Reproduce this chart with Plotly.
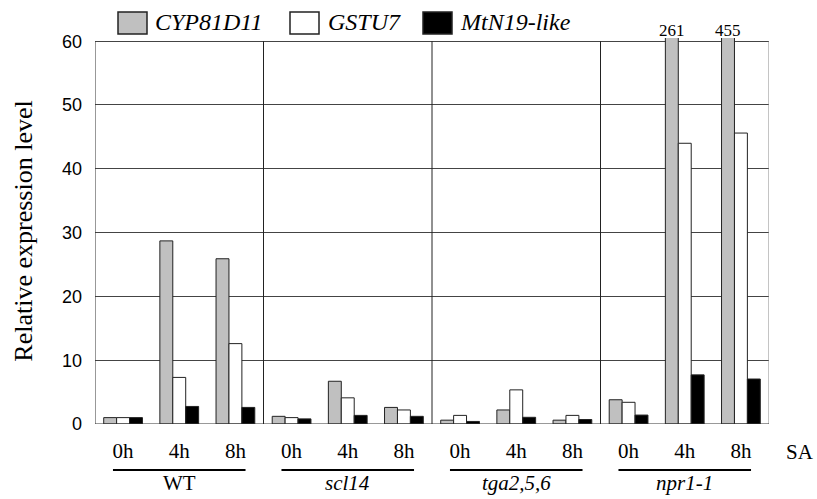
import plotly.graph_objects as go

# Genotypes and SA time points
genotypes = ["WT", "scl14", "tga2,5,6", "npr1-1"]
genotype_italic = [False, True, True, True]
timepoints = ["0h", "4h", "8h"]

# Relative expression levels (one value per genotype x time point)
cyp81d11 = [1.0, 28.7, 25.9, 1.2, 6.7, 2.6, 0.6, 2.2, 0.6, 3.8, 261, 455]
gstu7 = [1.0, 7.3, 12.6, 1.0, 4.1, 2.2, 1.35, 5.35, 1.35, 3.4, 44.0, 45.6]
mtn19_like = [1.0, 2.75, 2.6, 0.8, 1.35, 1.2, 0.4, 1.05, 0.7, 1.4, 7.7, 7.05]

series_names = ["CYP81D11", "GSTU7", "MtN19-like"]
series_fill = ["#c0c0c0", "#ffffff", "#000000"]

y_max = 60
y_ticks = [0, 10, 20, 30, 40, 50, 60]

n_cat = len(genotypes) * len(timepoints)
xpos = list(range(n_cat))
tick_text = timepoints * len(genotypes)

W, H = 817, 499
ML, MR, MT, MB = 95, 48, 38, 75
PW, PH = W - ML - MR, H - MT - MB
Y_TOP = 60.5


def px(x):
    return (x - ML) / PW


def py(y):
    return (H - MB - y) / PH


SERIF = "Liberation Serif"
SANS = "Liberation Sans"

fig = go.Figure()
for name, vals, fill in zip(series_names, [cyp81d11, gstu7, mtn19_like], series_fill):
    fig.add_trace(go.Bar(
        x=xpos, y=vals, name=name,
        marker=dict(color=fill, line=dict(color="#222222", width=1)),
        showlegend=False,
    ))

shapes = []
# frame: left axis, right border, baseline
shapes.append(dict(type="line", xref="x", yref="y", x0=-0.5, x1=-0.5, y0=0, y1=y_max,
                   line=dict(color="#333333", width=1)))
shapes.append(dict(type="line", xref="x", yref="y", x0=n_cat - 0.5, x1=n_cat - 0.5, y0=0, y1=y_max,
                   line=dict(color="#888888", width=1)))
shapes.append(dict(type="line", xref="x", yref="y", x0=-0.5, x1=n_cat - 0.5, y0=0, y1=0,
                   line=dict(color="#333333", width=1)))
# separators between genotypes
for g in range(1, len(genotypes)):
    xs = g * len(timepoints) - 0.5
    shapes.append(dict(type="line", xref="x", yref="y", x0=xs, x1=xs, y0=0, y1=y_max,
                       line=dict(color="#222222", width=1)))
# underlines below the time-point labels
for g in range(len(genotypes)):
    first = g * len(timepoints)
    last = first + len(timepoints) - 1
    shapes.append(dict(type="line", xref="x", yref="paper", x0=first - 0.18, x1=last + 0.18,
                       y0=py(470), y1=py(470), line=dict(color="#000000", width=2)))

# legend swatches
legend_box_x = [118, 290, 423]
legend_text_x = [153, 326, 458]
for bx, fill in zip(legend_box_x, series_fill):
    shapes.append(dict(type="rect", xref="paper", yref="paper",
                       x0=px(bx), x1=px(bx + 29), y0=py(34), y1=py(12),
                       fillcolor=fill, line=dict(color="#222222", width=1.5)))

annotations = []
for tx, name in zip(legend_text_x, series_names):
    annotations.append(dict(xref="paper", yref="paper", x=px(tx), y=py(22), xanchor="left", yanchor="middle",
                            text=f"<i>{name}</i>", showarrow=False,
                            font=dict(family=SERIF, size=24, color="#000000")))

for g, (gname, ital) in enumerate(zip(genotypes, genotype_italic)):
    mid = g * len(timepoints) + 1
    annotations.append(dict(xref="x", yref="paper", x=mid, y=py(483), xanchor="center", yanchor="middle",
                            text=f"<i>{gname}</i>" if ital else gname, showarrow=False,
                            font=dict(family=SERIF, size=21, color="#000000")))

annotations.append(dict(xref="paper", yref="paper", x=px(800), y=py(452), xanchor="center", yanchor="middle",
                        text="SA", showarrow=False, font=dict(family=SERIF, size=21, color="#000000")))

# values of the bars that run past the top of the axis
for i, v in enumerate(cyp81d11):
    if v > y_max:
        annotations.append(dict(xref="x", yref="paper", x=xpos[i], xshift=-13, y=py(31),
                                xanchor="center", yanchor="middle", text=f"{v:g}", showarrow=False,
                                font=dict(family=SERIF, size=17, color="#000000")))

fig.update_layout(
    width=W, height=H,
    margin=dict(l=ML, r=MR, t=MT, b=MB, autoexpand=False),
    paper_bgcolor="#ffffff", plot_bgcolor="#ffffff",
    barmode="group", bargap=0.31, bargroupgap=0,
    shapes=shapes, annotations=annotations,
    xaxis=dict(
        range=[-0.5, n_cat - 0.5], tickmode="array", tickvals=xpos, ticktext=tick_text,
        showgrid=False, zeroline=False, showline=False, ticks="",
        tickfont=dict(family=SERIF, size=21, color="#000000"), ticklabelstandoff=12,
    ),
    yaxis=dict(
        range=[0, Y_TOP], tickmode="array", tickvals=y_ticks,
        showgrid=True, gridcolor="#444444", gridwidth=1, zeroline=False, showline=False, ticks="",
        tickfont=dict(family=SANS, size=18, color="#000000"), ticklabelstandoff=12,
        title=dict(text="Relative expression level", font=dict(family=SERIF, size=26, color="#000000"),
                   standoff=21),
    ),
)

fig.write_html("out.html")
